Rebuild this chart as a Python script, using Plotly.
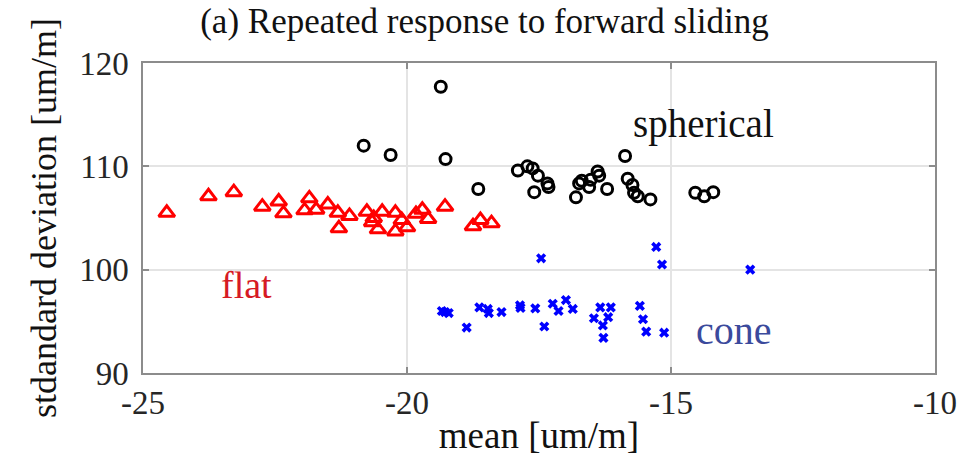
import plotly.graph_objects as go

# flat indenter: (mean, standard deviation) in um/m
flat_mean = [-24.55, -23.76, -23.28, -22.74, -22.43, -22.34, -21.94, -21.85, -21.72, -21.50,
             -21.31, -21.29, -21.09, -20.76, -20.66, -20.63, -20.47, -20.55, -20.22, -20.22,
             -20.10, -20.00, -19.83, -19.71, -19.60, -19.28, -18.75, -18.61, -18.40]
flat_std = [105.5, 107.1, 107.5, 106.1, 106.6, 105.45, 105.74, 106.9, 105.8, 106.3,
            105.5, 104.0, 105.2, 105.6, 104.6, 105.0, 105.6, 103.9, 105.5, 103.7,
            104.8, 104.1, 105.4, 105.8, 104.9, 106.1, 104.2, 104.8, 104.5]

# spherical indenter
sph_mean = [-20.82, -20.31, -19.36, -19.27, -18.65, -17.90, -17.72, -17.62, -17.52, -17.59,
            -17.34, -17.32, -16.80, -16.74, -16.69, -16.55, -16.52, -16.39, -16.36, -16.21,
            -15.87, -15.82, -15.73, -15.70, -15.63, -15.39, -14.54, -14.37, -14.20]
sph_std = [112.0, 111.1, 117.7, 110.7, 107.8, 109.6, 110.0, 109.8, 109.1, 107.5,
           108.35, 108.0, 107.0, 108.35, 108.6, 108.0, 108.7, 109.5, 109.1, 107.8,
           111.0, 108.8, 108.2, 107.45, 107.1, 106.8, 107.45, 107.1, 107.5]

# cone indenter
cone_mean = [-19.34, -19.28, -19.21, -18.87, -18.63, -18.47, -18.45, -18.21, -17.86, -17.85,
             -17.57, -17.46, -17.40, -17.24, -17.13, -16.99, -16.86, -16.46, -16.34, -16.29,
             -16.28, -16.19, -16.14, -15.59, -15.53, -15.47, -15.28, -15.17, -15.13, -13.50]
cone_std = [96.0, 95.9, 95.8, 94.4, 96.35, 96.2, 95.8, 95.9, 96.55, 96.3,
            96.25, 101.1, 94.5, 96.7, 96.0, 97.06, 96.2, 95.3, 96.35, 94.6,
            93.4, 95.4, 96.35, 96.5, 95.2, 94.0, 102.2, 100.5, 93.9, 100.0]

x_ticks = [-25, -20, -15, -10]
y_ticks = [90, 100, 110, 120]

FONT = "Liberation Serif"

fig = go.Figure()
fig.add_trace(go.Scatter(
    x=flat_mean, y=flat_std, mode="markers", name="flat",
    marker=dict(symbol="triangle-up-open", size=14, color="#ff0000",
                line=dict(width=3, color="#ff0000"))))
fig.add_trace(go.Scatter(
    x=sph_mean, y=sph_std, mode="markers", name="spherical",
    marker=dict(symbol="circle-open", size=11, color="#000000",
                line=dict(width=3, color="#000000"))))
fig.add_trace(go.Scatter(
    x=cone_mean, y=cone_std, mode="markers", name="cone",
    marker=dict(symbol="x", size=9, color="#0000ff", line=dict(width=0))))

axis_common = dict(
    showline=True, linecolor="#8c8c8c", linewidth=1.5, mirror="ticks",
    ticks="inside", ticklen=6, tickcolor="#8c8c8c", tickwidth=1.5,
    showgrid=True, gridcolor="#e4e4e4", gridwidth=1.5, zeroline=False,
    tickfont=dict(family=FONT, size=33, color="#262626"),
)

fig.update_xaxes(range=[-25, -10], tickvals=x_ticks, ticktext=[str(v) for v in x_ticks],
                 title=dict(text="mean [um/m]", font=dict(family=FONT, size=37, color="#111111"),
                            standoff=2),
                 **axis_common)
fig.update_yaxes(range=[90, 120], tickvals=y_ticks, ticktext=[str(v) for v in y_ticks],
                 title=dict(text="stdandard deviation [um/m]",
                            font=dict(family=FONT, size=36, color="#111111"), standoff=12),
                 ticklabelstandoff=6, **axis_common)

fig.add_annotation(x=-14.38, y=114.1, text="spherical", showarrow=False,
                   font=dict(family=FONT, size=39, color="#111111"))
fig.add_annotation(x=-23.04, y=98.5, text="flat", showarrow=False,
                   font=dict(family=FONT, size=38, color="#d61a24"))
fig.add_annotation(x=-13.8, y=94.15, text="cone", showarrow=False,
                   font=dict(family=FONT, size=40, color="#3b4a9c"))

fig.update_layout(
    width=969, height=461,
    margin=dict(l=143, r=32, t=63, b=88),
    paper_bgcolor="white", plot_bgcolor="white",
    showlegend=False,
    title=dict(text="(a) Repeated response to forward sliding", x=0.5, xanchor="center",
               y=0.955, yanchor="middle", xref="container", yref="container",
               font=dict(family=FONT, size=35, color="#111111")),
)

fig.write_html("out.html")
